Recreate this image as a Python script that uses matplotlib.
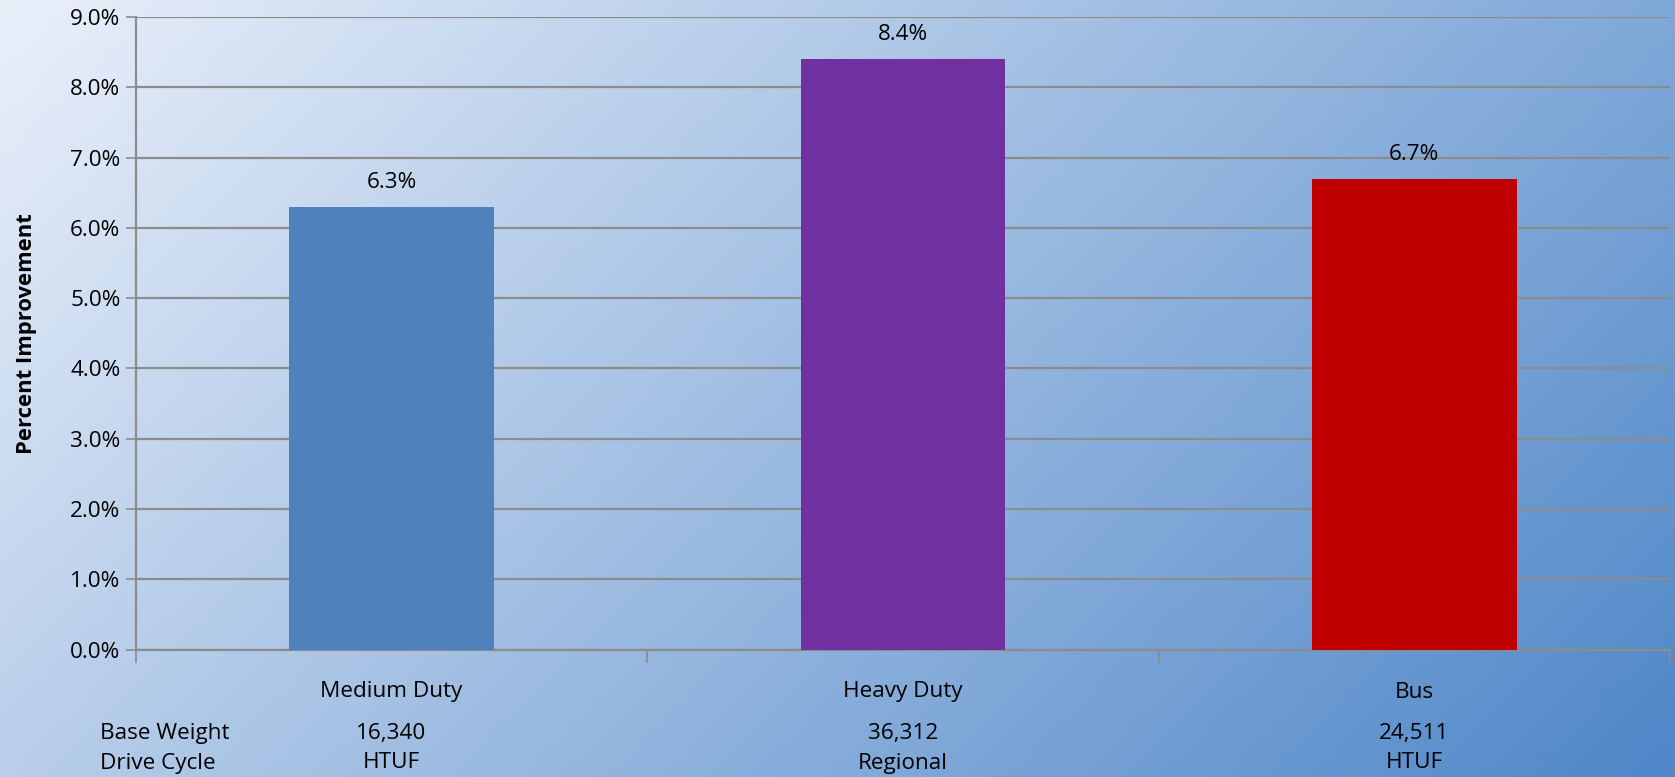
import numpy as np
import matplotlib
matplotlib.use("Agg")
import matplotlib.pyplot as plt
import matplotlib.transforms as mtransforms

plt.rcParams['font.family'] = ['Open Sans', 'DejaVu Sans']

# donnees
categories = ['Medium Duty', 'Heavy Duty', 'Bus']
improvement = [6.3, 8.4, 6.7]
base_weight = ['16,340', '36,312', '24,511']
drive_cycle = ['HTUF', 'Regional', 'HTUF']
bar_colors = ['#4F81BD', '#7030A0', '#C00000']

fs = 16.2

fig = plt.figure(figsize=(16.75, 7.77), dpi=100)

# fond degrade (haut-gauche clair -> bas-droite bleu)
bg = fig.add_axes([0, 0, 1, 1])
bg.set_axis_off()
h, w = 200, 400
yy, xx = np.mgrid[0:h, 0:w]
t = (xx / w * 0.75 + yy / h * 0.35) / 1.1
c0 = np.array([234, 240, 250]) / 255
c1 = np.array([78, 134, 200]) / 255
img = c0[None, None, :] * (1 - t[..., None]) + c1[None, None, :] * t[..., None]
bg.imshow(img, aspect='auto', extent=[0, 1, 0, 1], origin='upper')
bg.set_xlim(0, 1)
bg.set_ylim(0, 1)

ax = fig.add_axes([0.081, 0.164, 0.916, 0.814])
ax.patch.set_alpha(0)

x = np.arange(len(categories))
bars = ax.bar(x, improvement, width=0.4, color=bar_colors, zorder=3)
for b, v in zip(bars, improvement):
    ax.annotate('%.1f%%' % v, (b.get_x() + b.get_width() / 2, v),
                xytext=(0, 10), textcoords='offset points',
                ha='center', va='bottom', fontsize=fs)

ax.set_xlim(-0.5, len(categories) - 0.5)
ax.set_ylim(0, 9)
ax.set_yticks(np.arange(0, 9.5, 1))
ax.set_yticklabels(['%.1f%%' % v for v in np.arange(0, 9.5, 1)], fontsize=fs)
ax.yaxis.grid(True, color='#8C8C8C', linewidth=1.6, zorder=0)
ax.set_axisbelow(True)

ax.set_xticks(np.arange(-0.5, len(categories)), minor=False)
ax.set_xticklabels([])
ax.tick_params(axis='x', length=9, width=1.2, color='#8C8C8C')
ax.tick_params(axis='y', length=7, width=1.2, color='#8C8C8C', pad=4)

for s in ['top', 'right']:
    ax.spines[s].set_visible(False)
ax.spines['left'].set_color('#8C8C8C')
ax.spines['left'].set_linewidth(1.6)
ax.spines['bottom'].set_color('#8C8C8C')
ax.spines['bottom'].set_linewidth(1.6)

ax.set_ylabel('Percent Improvement', fontsize=15.8, fontweight='bold', labelpad=24)

# tableau sous l'axe
trans = mtransforms.blended_transform_factory(ax.transData, fig.transFigure)
for i in range(len(categories)):
    ax.text(x[i], 1 - 692 / 777, categories[i], transform=trans, ha='center', va='center', fontsize=fs)
    ax.text(x[i], 1 - 733 / 777, base_weight[i], transform=trans, ha='center', va='center', fontsize=fs)
    ax.text(x[i], 1 - 763 / 777, drive_cycle[i], transform=trans, ha='center', va='center', fontsize=fs)
fig.text(100 / 1675, 1 - 733 / 777, 'Base Weight', ha='left', va='center', fontsize=fs)
fig.text(100 / 1675, 1 - 763 / 777, 'Drive Cycle', ha='left', va='center', fontsize=fs)

fig.savefig('out.png', dpi=100)
